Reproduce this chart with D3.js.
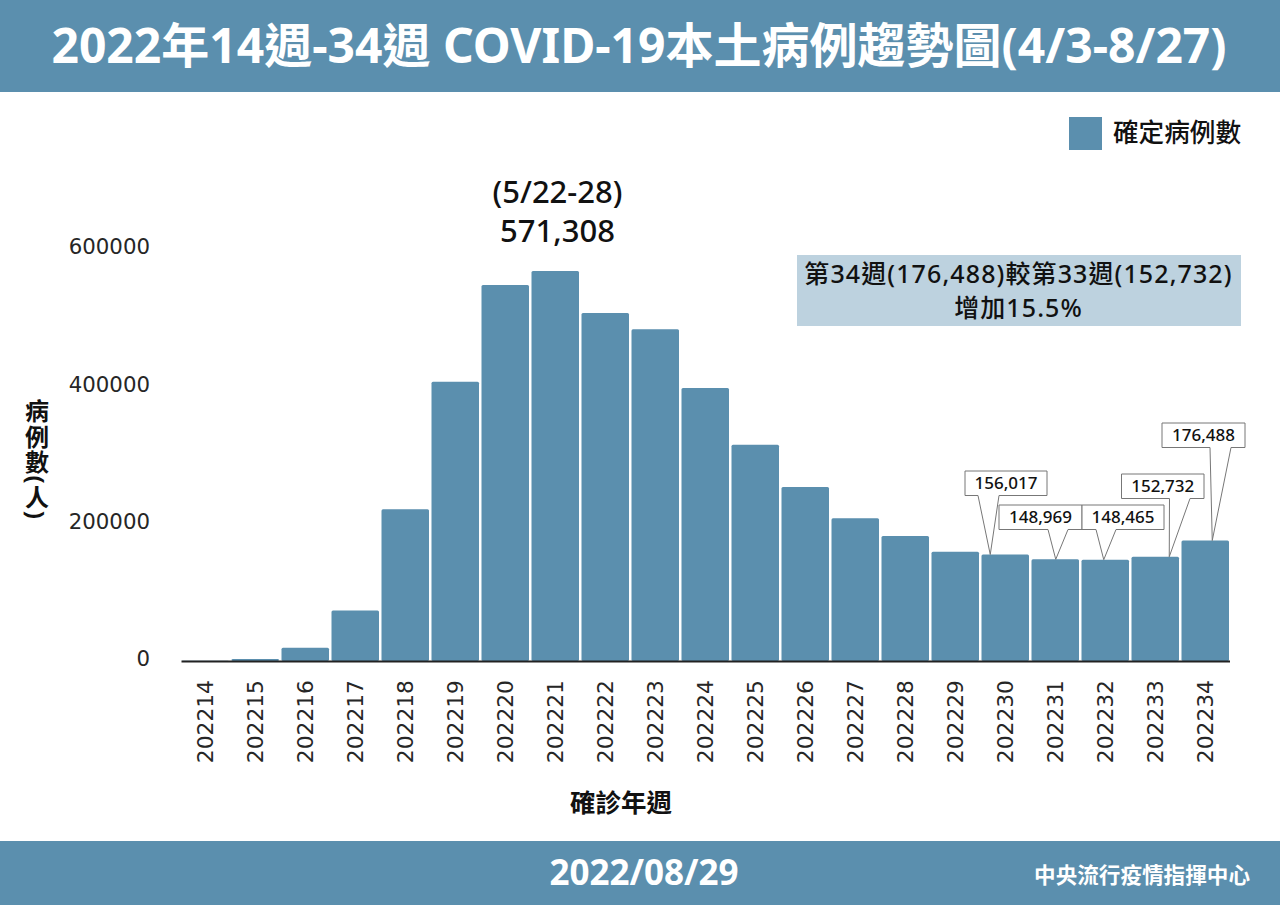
<!DOCTYPE html>
<html>
<head>
<meta charset="utf-8">
<script src="https://cdn.jsdelivr.net/npm/d3@7"></script>
<style>
  html, body { margin: 0; padding: 0; background: #fff; }
  svg { display: block; }
  text { font-family: "Noto Sans", "Noto Sans CJK TC", sans-serif; }
  .tick-label { font-family: "DejaVu Sans", sans-serif; fill: #262626; }
</style>
</head>
<body>
<svg id="chart" width="1280" height="905"></svg>
<script>
// --- Data ---
const weeks = ['202214', '202215', '202216', '202217', '202218', '202219', '202220',
  '202221', '202222', '202223', '202224', '202225', '202226', '202227', '202228',
  '202229', '202230', '202231', '202232', '202233', '202234'];
const cases = [380, 3000, 19500, 74000, 222500, 409000, 551000,
  571308, 510000, 486000, 400000, 317000, 255000, 209000, 183000,
  160000, 156017, 148969, 148465, 152732, 176488];
const yTicks = [0, 200000, 400000, 600000];
const calloutWeeks = ['202230', '202231', '202232', '202233', '202234'];
const calloutTexts = ['156,017', '148,969', '148,465', '152,732', '176,488'];

const titleText = '2022年14週-34週 COVID-19本土病例趨勢圖(4/3-8/27)';
const dateText = '2022/08/29';
const sourceText = '中央流行疫情指揮中心';
const legendText = '確定病例數';
const peakLines = ['(5/22-28)', '571,308'];
const noteLines = ['第34週(176,488)較第33週(152,732)', '增加15.5%'];
const xTitle = '確診年週';
const yTitle = '病例數(人)';

// --- Colours & layout ---
const BLUE = '#5b8fae';
const INK = '#111';
const svg = d3.select('#chart');

const x = d3.scaleBand().domain(weeks).range([181, 1229.5]).paddingInner(0.05).paddingOuter(0.01);
const y = d3.scaleLinear().domain([0, 600000]).range([661, 251.5]);
// tick labels in the picture sit on a slightly different spacing than the bars
const yLabel = d3.scaleLinear().domain([0, 600000]).range([659, 247]);

// callout boxes: box left/top/width, wedge start/end on box bottom, tip shift from bar centre
const calloutLayout = [
  { x0: 965, y0: 471, w: 82, a: 978, b: 999, dx: -15 },
  { x0: 999, y0: 505, w: 83, a: 1048, b: 1068, dx: 0.5 },
  { x0: 1082, y0: 505, w: 82, a: 1096, b: 1116, dx: -1.5 },
  { x0: 1121.5, y0: 474, w: 82.5, a: 1169.5, b: 1190, dx: 14 },
  { x0: 1162, y0: 423, w: 83, a: 1210, b: 1231, dx: 7 }
];
const calloutH = 24.5;

// --- Header & footer ---
svg.append('rect').attr('width', 1280).attr('height', 92).attr('fill', BLUE);
svg.append('rect').attr('y', 841).attr('width', 1280).attr('height', 64).attr('fill', BLUE);

svg.append('text').attr('x', 639).attr('y', 46).attr('dy', '0.35em')
  .attr('text-anchor', 'middle').attr('font-size', 48).attr('font-weight', 700)
  .attr('fill', '#fff').text(titleText);
svg.append('text').attr('x', 644).attr('y', 873).attr('dy', '0.35em')
  .attr('text-anchor', 'middle').attr('font-size', 35).attr('font-weight', 700)
  .attr('fill', '#fff').text(dateText);
svg.append('text').attr('x', 1250).attr('y', 875).attr('dy', '0.35em')
  .attr('text-anchor', 'end').attr('font-size', 21.6).attr('font-weight', 700)
  .attr('fill', '#fff').text(sourceText);

// --- Bars ---
svg.append('g').selectAll('rect')
  .data(weeks)
  .join('rect')
  .attr('x', d => x(d))
  .attr('y', (d, i) => y(cases[i]))
  .attr('width', x.bandwidth())
  .attr('height', (d, i) => y(0) - y(cases[i]))
  .attr('rx', 1.5)
  .attr('fill', BLUE);

// --- Axes ---
const xAxisG = svg.append('g')
  .attr('transform', `translate(0,${y(0)})`)
  .call(d3.axisBottom(x).tickSize(0).tickPadding(0));
xAxisG.select('.domain').attr('stroke', '#222').attr('stroke-width', 2);
xAxisG.selectAll('.tick text')
  .attr('class', 'tick-label')
  .attr('font-size', 21.8)
  .attr('transform', 'rotate(-90)')
  .attr('text-anchor', 'end')
  .attr('x', -19)
  .attr('y', 0)
  .attr('dy', '0.35em');

const yAxisG = svg.append('g')
  .attr('transform', 'translate(150,0)')
  .call(d3.axisLeft(yLabel).tickValues(yTicks).tickFormat(d3.format('d')).tickSize(0).tickPadding(0));
yAxisG.select('.domain').remove();
yAxisG.selectAll('.tick text').attr('class', 'tick-label').attr('font-size', 21.3);

svg.append('text').attr('x', 621).attr('y', 803).attr('dy', '0.35em')
  .attr('text-anchor', 'middle').attr('font-size', 25.5).attr('font-weight', 700)
  .attr('fill', INK).text(xTitle);
svg.append('text').attr('x', 36).attr('y', 399)
  .style('writing-mode', 'vertical-rl')
  .style('letter-spacing', '1.5px')
  .attr('font-size', 24).attr('font-weight', 700)
  .attr('fill', INK).text(yTitle);

// --- Legend ---
svg.append('rect').attr('x', 1069).attr('y', 117).attr('width', 33).attr('height', 33).attr('fill', BLUE);
svg.append('text').attr('x', 1113).attr('y', 133).attr('dy', '0.35em')
  .attr('font-size', 25.6).attr('font-weight', 500).attr('fill', INK).text(legendText);

// --- Peak label ---
svg.append('g').selectAll('text')
  .data(peakLines)
  .join('text')
  .attr('x', 557.5)
  .attr('y', (d, i) => 192 + i * 39)
  .attr('dy', '0.35em')
  .attr('text-anchor', 'middle')
  .attr('font-size', 31)
  .attr('font-weight', 500)
  .attr('fill', INK)
  .text(d => d);

// --- Note box ---
svg.append('rect').attr('x', 797).attr('y', 255).attr('width', 444).attr('height', 71).attr('fill', '#bdd2df');
svg.append('g').selectAll('text')
  .data(noteLines)
  .join('text')
  .attr('x', 1018.5)
  .attr('y', (d, i) => 274 + i * 34)
  .attr('dy', '0.35em')
  .attr('text-anchor', 'middle')
  .attr('font-size', 25)
  .style('letter-spacing', '1.1px')
  .attr('font-weight', 500)
  .attr('fill', INK)
  .text(d => d);

// --- Callouts ---
const callouts = svg.append('g').selectAll('g')
  .data(calloutWeeks)
  .join('g');

callouts.append('path')
  .attr('d', (d, i) => {
    const l = calloutLayout[i];
    const bottom = l.y0 + calloutH;
    const tipX = x(d) + x.bandwidth() / 2 + l.dx;
    const tipY = y(cases[weeks.indexOf(d)]);
    return `M${l.x0},${l.y0}H${l.x0 + l.w}V${bottom}H${l.b}L${tipX},${tipY}L${l.a},${bottom}H${l.x0}Z`;
  })
  .attr('fill', '#fff')
  .attr('stroke', '#777')
  .attr('stroke-width', 1);

callouts.append('text')
  .attr('x', (d, i) => calloutLayout[i].x0 + calloutLayout[i].w / 2)
  .attr('y', (d, i) => calloutLayout[i].y0 + calloutH / 2)
  .attr('dy', '0.35em')
  .attr('text-anchor', 'middle')
  .attr('font-size', 17)
  .attr('font-weight', 500)
  .attr('fill', INK)
  .text((d, i) => calloutTexts[i]);
</script>
</body>
</html>
